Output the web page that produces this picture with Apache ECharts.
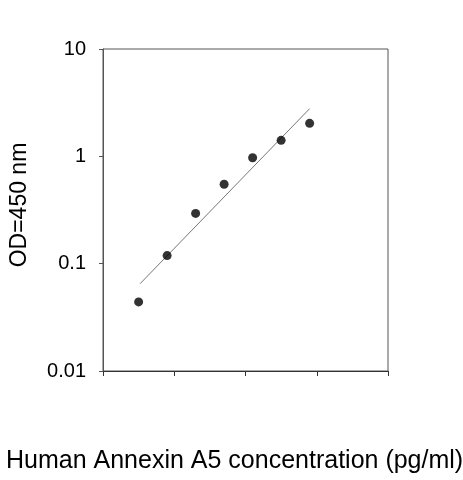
<!DOCTYPE html>
<html>
<head>
<meta charset="utf-8">
<script src="https://cdn.jsdelivr.net/npm/echarts@6/dist/echarts.min.js"></script>
<style>
html,body{margin:0;padding:0;background:#fff;}
#chart{width:463px;height:480px;}
</style>
</head>
<body>
<div id="chart"></div>
<script>
// Data
const concentrationPos = [0.5, 0.9, 1.3, 1.7, 2.1, 2.5, 2.9];
const odValues = [0.044, 0.119, 0.294, 0.55, 0.97, 1.41, 2.03];
const fitX = [0.52, 2.9];
const fitY = [0.065, 2.78];
const yTicks = [0.01, 0.1, 1, 10];
const xTitle = 'Human Annexin A5 concentration (pg/ml)';
const yTitle = 'OD=450 nm';

const chart = echarts.init(document.getElementById('chart'));
const font = 'Liberation Sans, Arial, sans-serif';
chart.setOption({
  animation: false,
  backgroundColor: '#fff',
  title: {
    text: xTitle,
    left: 6,
    top: 449,
    padding: 0,
    textStyle: {fontFamily: font, fontSize: 25, fontWeight: 'normal', color: '#000'}
  },
  grid: {left: 99, top: 49, right: 75, bottom: 109, show: true, borderColor: '#555', borderWidth: 1, backgroundColor: 'transparent'},
  xAxis: {
    type: 'value', min: 0, max: 4, interval: 1,
    axisLine: {lineStyle: {color: '#333', width: 1}},
    axisTick: {show: true, inside: false, length: 5, lineStyle: {color: '#333'}},
    axisLabel: {show: false},
    splitLine: {show: false}
  },
  yAxis: {
    type: 'log', logBase: 10, min: 0.01, max: 10,
    name: yTitle, nameLocation: 'middle', nameGap: 72, nameRotate: 90,
    nameTextStyle: {fontFamily: font, fontSize: 23, color: '#000', padding: [0, 0, 0, 10]},
    axisLine: {show: true, lineStyle: {color: '#555', width: 1}},
    axisTick: {show: true, inside: false, length: 4, lineStyle: {color: '#555'}},
    axisLabel: {
      fontFamily: font, fontSize: 20, color: '#000', margin: 17,
      formatter: function (v) { return yTicks.indexOf(+v.toPrecision(3)) >= 0 ? String(+v.toPrecision(3)) : ''; }
    },
    minorTick: {show: false},
    splitLine: {show: false}
  },
  series: [
    {
      type: 'line',
      data: fitX.map((x, i) => [x, fitY[i]]),
      symbol: 'none',
      lineStyle: {color: '#777', width: 1},
      z: 2
    },
    {
      type: 'scatter',
      data: concentrationPos.map((x, i) => [x, odValues[i]]),
      symbol: 'circle',
      symbolSize: 9,
      itemStyle: {color: '#000'},
      z: 3
    }
  ]
});
</script>
</body>
</html>
